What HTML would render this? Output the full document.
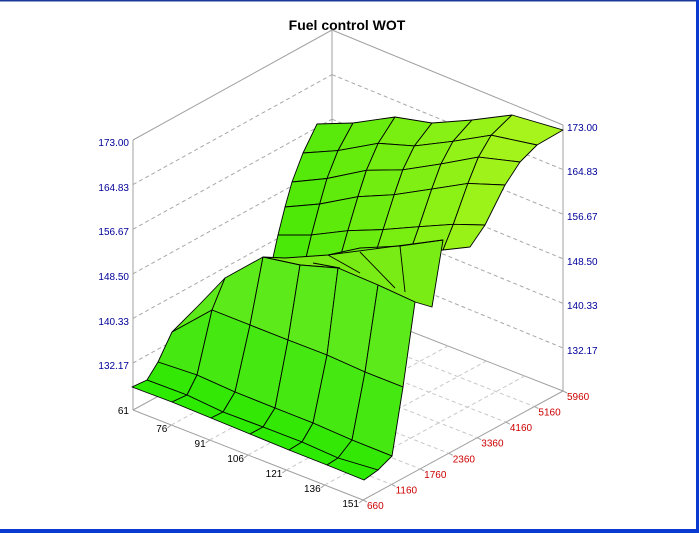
<!DOCTYPE html>
<html><head><meta charset="utf-8"><style>
html,body{margin:0;padding:0;background:#fff}
#c{position:relative;width:699px;height:533px;overflow:hidden;background:#fff}
svg text{font-family:"Liberation Sans",Arial,sans-serif}
</style></head><body><div id="c">
<svg id="s" width="699" height="533" xmlns="http://www.w3.org/2000/svg">
<rect x="0" y="0" width="699" height="1.5" fill="#1a3a9a"/>
<rect x="696" y="0" width="3" height="533" fill="#0a3ad0"/>
<rect x="0" y="529" width="699" height="4" fill="#0a3ad0"/>
<text x="347" y="30" font-size="14" font-weight="bold" text-anchor="middle">Fuel control WOT</text>
<g id="grid" stroke="#a0a0a0" stroke-width="1" fill="none"></g>
<g id="surf" stroke="#000" stroke-width="0.9" stroke-linejoin="round"></g>
<g id="lab" font-size="10"></g>
</svg></div>
<script>
var NS="http://www.w3.org/2000/svg";
function el(p,t,a,txt){var e=document.createElementNS(NS,t);for(var k in a)e.setAttribute(k,a[k]);if(txt!=null)e.textContent=txt;p.appendChild(e);return e;}
var G=document.getElementById('grid'),S=document.getElementById('surf'),Lb=document.getElementById('lab');
var L=[133,410],F=[363,500],R=[563,391],B=[333,301];
function ln(a,b,d,col){var o={x1:a[0],y1:a[1],x2:b[0],y2:b[1]};if(d)o['stroke-dasharray']='4,3';if(col)o.stroke=col;el(G,'line',o);}
for(var k=0;k<6;k++){
 var yl=140+k*44.6, yb=30+k*44.6, yr=125+k*44.6;
 ln([133,yl],[332,yb],k>0,k>0?'#a8a8a8':null);
 ln([332,yb],[563,yr],k>0,k>0?'#a8a8a8':null);
}
ln([133,140],[133,410]);ln([332,30],[332,301]);ln([563,125],[563,391]);
ln(L,F);ln(F,R);ln(R,B);ln(L,B);
for(var i=1;i<6;i++){var t=i/6;var a=[L[0]+t*(F[0]-L[0]),L[1]+t*(F[1]-L[1])];ln(a,[a[0]+R[0]-F[0],a[1]+R[1]-F[1]],true,'#c8c8c8');}
for(var j=1;j<7;j++){var t=j/7;var a=[L[0]+t*(B[0]-L[0]),L[1]+t*(B[1]-L[1])];ln(a,[a[0]+F[0]-L[0],a[1]+F[1]-L[1]],true,'#c8c8c8');}
var zl=['173.00','164.83','156.67','148.50','140.33','132.17'];
var ly=[142,187,231,276,321,365],ry=[127,171,216,261,305,350];
for(var k=0;k<6;k++){el(Lb,'text',{x:129,y:ly[k]+4,'text-anchor':'end',fill:'#000099'},zl[k]);el(Lb,'text',{x:567,y:ry[k]+4,fill:'#000099'},zl[k]);}
var xl=['61','76','91','106','121','136','151'];
for(var i=0;i<7;i++){var t=i/6;var x=L[0]+t*(F[0]-L[0]),y=L[1]+t*(F[1]-L[1]);el(Lb,'text',{x:x-4,y:y+4+(i>0?3:0),'text-anchor':'end',fill:'#000'},xl[i]);if(i>0)ln([x,y],[x-4,y+3]);}
var rl=['660','1160','1760','2360','3360','4160','5160','5960'];
for(var j=0;j<8;j++){var t=j/7;var x=F[0]+t*(R[0]-F[0]),y=F[1]+t*(R[1]-F[1]);el(Lb,'text',{x:x+4,y:y+9,fill:'#cc0000'},rl[j]);ln([x,y],[x+4,y+2]);}
function col(t){var r=Math.round(40+t*140),g=Math.round(228+t*18),b=Math.round(t*30);return 'rgb('+r+','+g+','+b+')';}
function quad(a,b,c,d,f){el(S,'polygon',{points:[a,b,c,d].map(function(p){return p[0]+','+p[1];}).join(' '),fill:f});}
var T=[[317,124],[353,123],[395,117],[432,123],[472,120],[512,115],[563,130]];
var Bt=[[272,262],[305,262],[340,258],[375,255],[410,252],[443,250],[470,247]];
var Le=[[317,124],[303,153],[292,182],[285,207],[278,235],[272,262]];
var Re=[[563,130],[537,145],[520,162],[505,185],[485,225],[470,247]];
var P=[];
for(var r=0;r<6;r++){P.push([]);var s=r/5;for(var c=0;c<7;c++){var u=c/6;
 var bx=T[c][0]+s*(Bt[c][0]-T[c][0]),by=T[c][1]+s*(Bt[c][1]-T[c][1]);
 var l0x=T[0][0]+s*(Bt[0][0]-T[0][0]),l0y=T[0][1]+s*(Bt[0][1]-T[0][1]);
 var r0x=T[6][0]+s*(Bt[6][0]-T[6][0]),r0y=T[6][1]+s*(Bt[6][1]-T[6][1]);
 P[r].push([(bx+(1-u)*(Le[r][0]-l0x)+u*(Re[r][0]-r0x)).toFixed(1),(by+(1-u)*(Le[r][1]-l0y)+u*(Re[r][1]-r0y)).toFixed(1)]);}}
for(var r=0;r<5;r++)for(var c=0;c<6;c++){quad(P[r][c],P[r][c+1],P[r+1][c+1],P[r+1][c],col(0.35+0.55*c/5-0.1*r/4));}
el(S,'polygon',{points:'263,257 285,258 328,255 443,240 432,307 415,302 378,285 338,268 300,265',fill:'rgb(120,236,20)'});
el(S,'polyline',{points:'313,263 340,268',fill:'none'});
el(S,'polyline',{points:'328,255 360,273',fill:'none'});
el(S,'polyline',{points:'360,252 395,288',fill:'none'});
el(S,'polyline',{points:'400,246 405,292',fill:'none'});
el(S,'polyline',{points:'328,255 360,248 400,246 443,240',fill:'none'});
var FB=[
[[132,387],[172,402],[211,418],[250,434],[289,450],[327,465],[364,480]],
[[147,380],[187,395],[223,412],[263,427],[302,442],[338,458],[378,470]],
[[158,362],[197,375],[235,392],[275,408],[313,423],[352,440],[392,456]],
[[172,332],[212,310],[250,325],[288,340],[327,355],[365,372],[403,387]],
[[198,306],[225,278],[263,257],[300,265],[338,268],[378,285],[415,302]]];
var fc=['rgb(44,234,0)','rgb(52,232,6)','rgb(70,232,18)','rgb(92,234,26)'];
for(var r=3;r>=0;r--)for(var c=0;c<6;c++)quad(FB[r][c],FB[r][c+1],FB[r+1][c+1],FB[r+1][c],fc[r]);
</script>
</body></html>
